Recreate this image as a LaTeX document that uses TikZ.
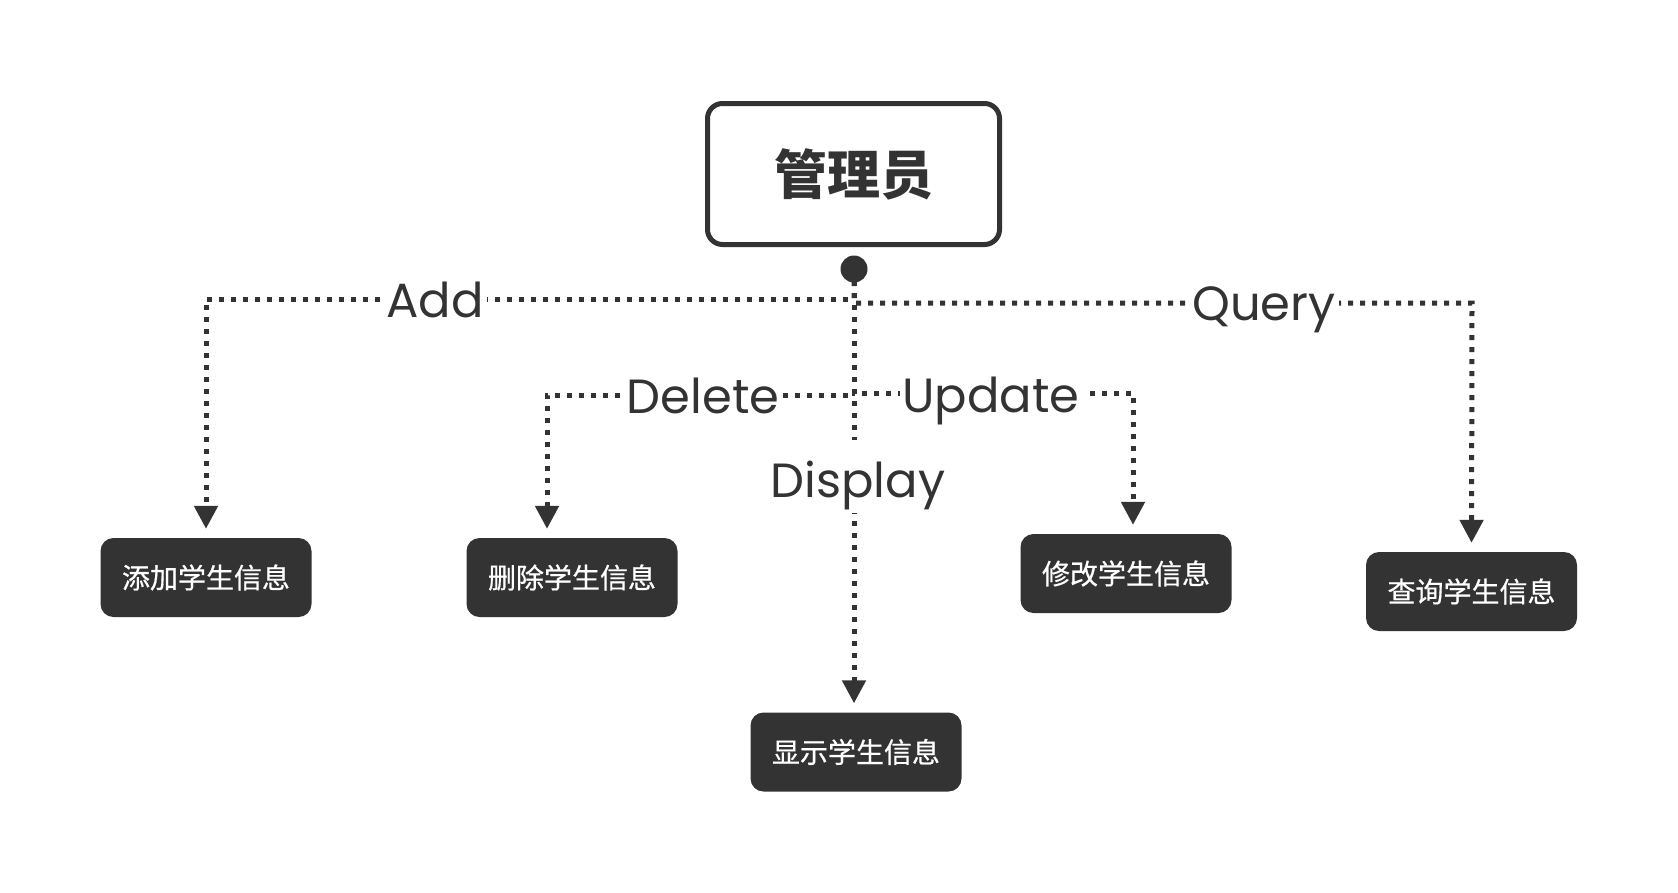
\documentclass[tikz,border=0pt]{standalone}
\usepackage{fontspec}
\setmainfont{Poppins}
\newfontfamily\cjk{Noto Sans CJK SC}
\newfontfamily\cjkmed[FakeBold=0.6]{Noto Sans CJK SC}
\usetikzlibrary{arrows.meta}
\definecolor{ink}{HTML}{333333}
\begin{document}
\begin{tikzpicture}[x=1pt,y=-1pt,
  rootbox/.style={draw=ink, line width=5pt, rounded corners=15pt, minimum width=292pt, minimum height=141pt, inner sep=0pt, text=ink, font=\cjk\bfseries\fontsize{53}{60}\selectfont},
  leaf/.style={fill=ink, rounded corners=13pt, minimum width=211pt, minimum height=79pt, inner sep=0pt, text=white, font=\cjkmed\fontsize{28}{32}\selectfont},
  conn/.style={draw=ink, line width=5pt, dash pattern=on 5pt off 7pt, -{Triangle[width=23pt,length=23pt]}, shorten >=9pt},
  lbl/.style={fill=white, text=ink, font=\fontsize{48}{56}\selectfont, anchor=base, inner xsep=3pt, inner ysep=4pt}]
\path[fill=white, use as bounding box] (0,0) rectangle (1678,892);

\node[rootbox] (root) at (853.5,174) {管理员};
\node[circle, fill=ink, minimum size=27pt, inner sep=0pt] (dot) at (854,269) {};

\node[leaf] (addbox) at (206,577.5) {添加学生信息};
\node[leaf] (delbox) at (572,577.5) {删除学生信息};
\node[leaf] (disbox) at (856,752) {显示学生信息};
\node[leaf] (updbox) at (1126,573.5) {修改学生信息};
\node[leaf] (qrybox) at (1471.5,591.5) {查询学生信息};

\coordinate (addturn) at (206,299);
\coordinate (delturn) at (547,395);
\coordinate (updturn) at (1133,393);
\coordinate (qryturn) at (1472,303);

\draw[conn] (dot.center) |- (addturn) -- (addbox.north);
\draw[conn] (dot.center) |- (qryturn) -- (qrybox.north);
\draw[conn] (dot.center) |- (delturn) -- ([xshift=-25pt]delbox.north);
\draw[conn] (dot.center) |- (updturn) -- ([xshift=7pt]updbox.north);
\draw[conn] (dot.center) -- (dot.center |- disbox.north);

\node[lbl] (addlbl) at (435,317) {Add};
\node[lbl] (qrylbl) at (1264,320) {Query};
\node[lbl] (dellbl) at (703,413) {Delete};
\node[lbl] (updlbl) at (991,412) {Update};
\node[lbl, text height=53pt, text depth=12pt] (dislbl) at (858,497) {Display};
\end{tikzpicture}
\end{document}
